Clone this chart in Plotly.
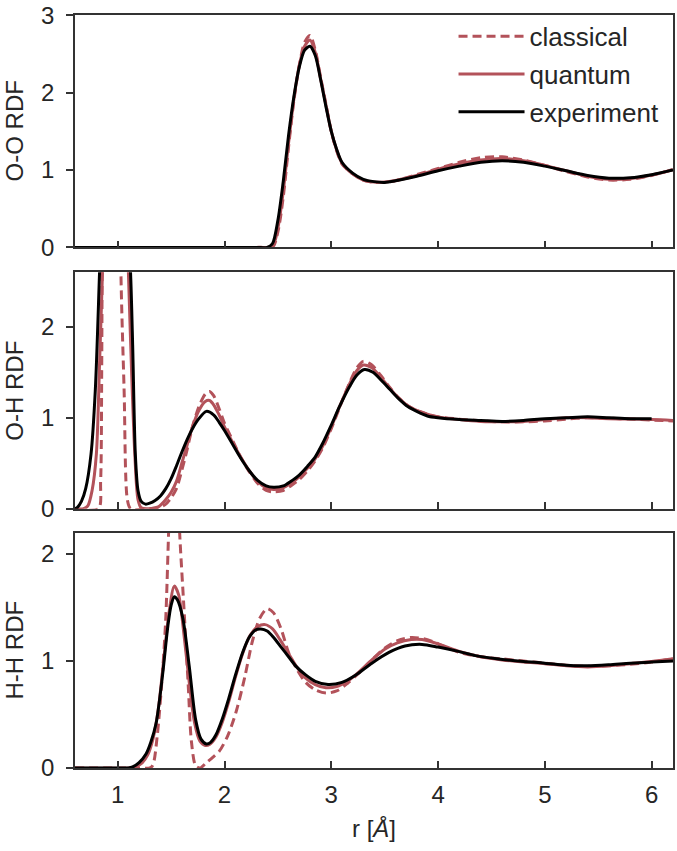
import plotly.graph_objects as go

# ---------------- O-O RDF ----------------
oo_exp_r = [0.6, 1.0, 1.5, 2.0, 2.3, 2.4, 2.45, 2.5, 2.55, 2.6, 2.65, 2.7, 2.75, 2.8, 2.85, 2.9, 2.95,
            3.0, 3.05, 3.1, 3.2, 3.3, 3.4, 3.5, 3.6, 3.8, 4.0, 4.2, 4.4, 4.6, 4.8, 5.0, 5.2, 5.4, 5.6,
            5.8, 6.0, 6.2]
oo_exp_g = [0, 0, 0, 0, 0, 0.0, 0.05, 0.35, 0.85, 1.45, 1.95, 2.33, 2.55, 2.60, 2.48, 2.17, 1.82,
            1.5, 1.27, 1.1, 0.96, 0.88, 0.85, 0.84, 0.86, 0.92, 0.99, 1.05, 1.1, 1.12, 1.1, 1.05, 0.99,
            0.93, 0.895, 0.9, 0.94, 1.0]

oo_cla_r = [0.6, 1.0, 1.5, 2.0, 2.3, 2.45, 2.5, 2.55, 2.6, 2.65, 2.7, 2.75, 2.8, 2.85, 2.9, 2.95, 3.0,
            3.05, 3.1, 3.2, 3.3, 3.4, 3.5, 3.6, 3.8, 4.0, 4.2, 4.4, 4.6, 4.8, 5.0, 5.2, 5.4, 5.6, 5.8,
            6.0, 6.2]
oo_cla_g = [0, 0, 0, 0, 0, 0.0, 0.2, 0.65, 1.3, 1.9, 2.35, 2.65, 2.74, 2.55, 2.2, 1.85, 1.5,
            1.25, 1.08, 0.95, 0.87, 0.84, 0.84, 0.86, 0.94, 1.02, 1.1, 1.16, 1.17, 1.13, 1.06, 0.98,
            0.91, 0.87, 0.88, 0.93, 1.01]

oo_qua_r = [0.6, 1.0, 1.5, 2.0, 2.3, 2.45, 2.5, 2.55, 2.6, 2.65, 2.7, 2.75, 2.8, 2.85, 2.9, 2.95, 3.0,
            3.05, 3.1, 3.2, 3.3, 3.4, 3.5, 3.6, 3.8, 4.0, 4.2, 4.4, 4.6, 4.8, 5.0, 5.2, 5.4, 5.6, 5.8,
            6.0, 6.2]
oo_qua_g = [0, 0, 0, 0, 0, 0.02, 0.25, 0.72, 1.35, 1.92, 2.35, 2.6, 2.68, 2.52, 2.18, 1.84, 1.5,
            1.26, 1.09, 0.95, 0.87, 0.845, 0.845, 0.865, 0.93, 1.01, 1.08, 1.13, 1.15, 1.12, 1.06, 0.99,
            0.92, 0.88, 0.89, 0.935, 1.005]

# ---------------- O-H RDF ----------------
oh_exp_r = [0.6, 0.62, 0.66, 0.70, 0.75, 0.79, 0.83, 0.87, 0.92, 0.97, 1.02, 1.07, 1.10, 1.12, 1.14,
            1.165, 1.19, 1.22, 1.26, 1.30, 1.35, 1.40, 1.45, 1.50, 1.55, 1.60, 1.65, 1.70, 1.76, 1.83,
            1.90, 1.95, 2.0, 2.08, 2.15, 2.23, 2.31, 2.39, 2.46, 2.55, 2.62, 2.70, 2.78, 2.85, 2.92,
            3.0, 3.08, 3.17, 3.24, 3.31, 3.39, 3.47, 3.55, 3.63, 3.72, 3.8, 3.9, 4.0, 4.2, 4.4, 4.6,
            4.8, 5.0, 5.2, 5.4, 5.6, 5.8, 6.0]
oh_exp_g = [0, 0.01, 0.08, 0.22, 0.6, 1.3, 2.6, 4.0, 5.0, 5.2, 4.6, 3.6, 3.0, 2.6, 1.8,
            0.6, 0.2, 0.08, 0.05, 0.06, 0.09, 0.14, 0.22, 0.33, 0.47, 0.62, 0.76, 0.88, 0.99, 1.07,
            1.03, 0.95, 0.86, 0.70, 0.56, 0.42, 0.31, 0.25, 0.235, 0.25, 0.3, 0.37, 0.47, 0.57, 0.72,
            0.92, 1.13, 1.34, 1.47, 1.53, 1.5, 1.41, 1.31, 1.21, 1.12, 1.07, 1.02, 1.0, 0.98, 0.97, 0.96,
            0.97, 0.99, 1.0, 1.01, 1.0, 0.99, 0.99]

oh_cla_r = [0.6, 0.82, 0.84, 0.85, 0.855, 0.87, 0.9, 0.95, 0.99, 1.01, 1.03, 1.06, 1.09, 1.12, 1.3,
            1.4, 1.45, 1.5, 1.55, 1.6, 1.65, 1.7, 1.76, 1.82, 1.86, 1.9, 1.95, 2.0, 2.08, 2.15, 2.23,
            2.31, 2.39, 2.46, 2.55, 2.62, 2.7, 2.78, 2.85, 2.92, 3.0, 3.08, 3.17, 3.24, 3.3, 3.38,
            3.46, 3.55, 3.63, 3.72, 3.8, 3.9, 4.0, 4.2, 4.4, 4.6, 4.8, 5.0, 5.2, 5.4, 5.6, 5.8, 6.0, 6.2]
oh_cla_g = [0, 0, 0.3, 1.5, 3.0, 7.0, 11.5, 13.0, 9.0, 5.5, 2.6, 1.3, 0.1, 0, 0,
            0.02, 0.05, 0.12, 0.22, 0.42, 0.65, 0.9, 1.12, 1.26, 1.29, 1.24, 1.1, 0.94, 0.74, 0.57, 0.41,
            0.28, 0.2, 0.185, 0.2, 0.25, 0.32, 0.42, 0.53, 0.67, 0.88, 1.12, 1.38, 1.55, 1.62, 1.58,
            1.47, 1.33, 1.22, 1.13, 1.08, 1.04, 1.01, 0.985, 0.965, 0.955, 0.955, 0.965, 0.985, 1.0,
            0.995, 0.985, 0.975, 0.965]

oh_qua_r = [0.6, 0.68, 0.72, 0.76, 0.80, 0.83, 0.86, 0.90, 0.96, 1.00, 1.04, 1.08, 1.10, 1.13, 1.16,
            1.19, 1.22, 1.3, 1.38, 1.45, 1.5, 1.55, 1.6, 1.65, 1.7, 1.76, 1.82, 1.86, 1.9, 1.95, 2.0,
            2.08, 2.15, 2.23, 2.31, 2.39, 2.46, 2.55, 2.62, 2.7, 2.78, 2.85, 2.92, 3.0, 3.08, 3.17,
            3.24, 3.3, 3.38, 3.46, 3.55, 3.63, 3.72, 3.8, 3.9, 4.0, 4.2, 4.4, 4.6, 4.8, 5.0, 5.2, 5.4,
            5.6, 5.8, 6.0, 6.2]
oh_qua_g = [0, 0, 0.03, 0.2, 0.6, 1.6, 2.7, 4.5, 6.0, 5.8, 4.6, 3.3, 2.6, 1.5, 0.6,
            0.1, 0.01, 0.0, 0.02, 0.1, 0.18, 0.3, 0.5, 0.7, 0.9, 1.08, 1.18, 1.19, 1.14, 1.03, 0.9,
            0.72, 0.57, 0.42, 0.3, 0.23, 0.21, 0.23, 0.28, 0.35, 0.45, 0.55, 0.69, 0.9, 1.13, 1.37,
            1.52, 1.58, 1.55, 1.45, 1.32, 1.22, 1.13, 1.08, 1.04, 1.01, 0.98, 0.96, 0.955, 0.96, 0.98,
            1.0, 1.0, 0.99, 0.985, 0.98, 0.97]

# ---------------- H-H RDF ----------------
hh_exp_r = [0.6, 1.0, 1.1, 1.14, 1.2, 1.265, 1.31, 1.36, 1.42, 1.47, 1.50, 1.53, 1.56, 1.61, 1.67,
            1.73, 1.78, 1.83, 1.87, 1.92, 1.98, 2.04, 2.1, 2.17, 2.23, 2.29, 2.34, 2.4, 2.46, 2.53,
            2.6, 2.67, 2.76, 2.85, 2.97, 3.1, 3.23, 3.38, 3.54, 3.69, 3.85, 4.0, 4.19, 4.35, 4.55, 4.8,
            5.0, 5.2, 5.4, 5.6, 5.8, 6.0, 6.2]
hh_exp_g = [0, 0, 0, 0.01, 0.05, 0.13, 0.24, 0.42, 0.87, 1.33, 1.52, 1.60, 1.57, 1.40, 0.95,
            0.45, 0.27, 0.225, 0.24, 0.31, 0.46, 0.65, 0.86, 1.08, 1.22, 1.29, 1.30, 1.28, 1.22, 1.13,
            1.04, 0.95, 0.87, 0.81, 0.78, 0.80, 0.87, 0.98, 1.08, 1.14, 1.155, 1.13, 1.09, 1.05, 1.02,
            0.995, 0.98, 0.96, 0.955, 0.965, 0.98, 0.99, 1.0]

hh_cla_r = [0.6, 1.2, 1.3, 1.33, 1.37, 1.42, 1.45, 1.48, 1.52, 1.55, 1.58, 1.62, 1.66, 1.69, 1.73,
            1.77, 1.83, 1.89, 1.95, 2.03, 2.11, 2.19, 2.26, 2.33, 2.4, 2.46, 2.53, 2.6, 2.68, 2.76,
            2.85, 2.95, 3.05, 3.15, 3.25, 3.38, 3.5, 3.62, 3.75, 3.9, 4.05, 4.2, 4.4, 4.6, 4.8, 5.0,
            5.2, 5.4, 5.6, 5.8, 6.0, 6.2]
hh_cla_g = [0, 0, 0.0, 0.03, 0.3, 0.9, 1.4, 2.3, 3.3, 3.0, 2.2, 1.5, 0.78, 0.25, 0.02,
            0.0, 0.05, 0.1, 0.155, 0.3, 0.53, 0.85, 1.18, 1.40, 1.49, 1.45, 1.30, 1.08, 0.92, 0.80,
            0.73, 0.70, 0.72, 0.79, 0.88, 1.01, 1.12, 1.19, 1.22, 1.2, 1.14, 1.08, 1.04, 1.02, 1.0, 0.98,
            0.96, 0.95, 0.955, 0.97, 0.99, 1.02]

hh_qua_r = [0.6, 1.1, 1.16, 1.22, 1.28, 1.33, 1.38, 1.43, 1.48, 1.53, 1.57, 1.62, 1.67, 1.72, 1.77,
            1.82, 1.86, 1.92, 1.98, 2.04, 2.1, 2.17, 2.24, 2.31, 2.38, 2.45, 2.52, 2.6, 2.68, 2.76,
            2.85, 2.95, 3.05, 3.15, 3.25, 3.38, 3.5, 3.62, 3.75, 3.85, 4.0, 4.2, 4.4, 4.6, 4.8, 5.0,
            5.2, 5.4, 5.6, 5.8, 6.0, 6.2]
hh_qua_g = [0, 0, 0.01, 0.04, 0.12, 0.27, 0.55, 1.0, 1.45, 1.70, 1.62, 1.25, 0.8, 0.42, 0.25,
            0.21, 0.22, 0.29, 0.43, 0.62, 0.84, 1.07, 1.24, 1.32, 1.34, 1.30, 1.2, 1.07, 0.94, 0.84,
            0.78, 0.75, 0.76, 0.81, 0.89, 1.01, 1.11, 1.17, 1.2, 1.2, 1.16, 1.09, 1.04, 1.01, 0.99,
            0.975, 0.955, 0.945, 0.955, 0.975, 0.995, 1.02]

series_names = ["classical", "quantum", "experiment"]
panel_titles = ["O-O RDF", "O-H RDF", "H-H RDF"]
x_ticks = [1, 2, 3, 4, 5, 6]
y_ticks = [[0, 1, 2, 3], [0, 1, 2], [0, 1, 2]]
y_ranges = [[0, 3.004], [0, 2.6], [0, 2.2]]

panels = [
    [(oo_cla_r, oo_cla_g), (oo_qua_r, oo_qua_g), (oo_exp_r, oo_exp_g)],
    [(oh_cla_r, oh_cla_g), (oh_qua_r, oh_qua_g), (oh_exp_r, oh_exp_g)],
    [(hh_cla_r, hh_cla_g), (hh_qua_r, hh_qua_g), (hh_exp_r, hh_exp_g)],
]

RED = "#b3525a"
TXT = "#262626"
FONT = "Liberation Sans, Arial, sans-serif"
FS = 24
styles = [dict(color=RED, width=3, dash="9px,5px"),
          dict(color=RED, width=3),
          dict(color="black", width=3)]

fig = go.Figure()
for p, traces in enumerate(panels):
    sfx = "" if p == 0 else str(p + 1)
    for k, (rr, gg) in enumerate(traces):
        fig.add_trace(go.Scatter(
            x=rr, y=gg, mode="lines", name=series_names[k],
            line=dict(shape="spline", smoothing=0.8, **styles[k]),
            xaxis="x" + sfx, yaxis="y" + sfx,
            showlegend=(p == 0), legendgroup=series_names[k],
        ))

domains = [[0.6914, 1.0], [0.3444, 0.6583], [0.0, 0.3126]]
annotations = []
layout = dict(
    width=677, height=851,
    margin=dict(l=75, r=2, t=13, b=83),
    paper_bgcolor="white", plot_bgcolor="white",
    font=dict(family=FONT, size=FS, color=TXT),
    showlegend=True,
    legend=dict(x=0.633, y=1.003, xanchor="left", yanchor="top",
                bgcolor="rgba(0,0,0,0)", font=dict(size=26, color=TXT),
                traceorder="grouped", tracegroupgap=1, itemwidth=66),
)
for p in range(3):
    sfx = "" if p == 0 else str(p + 1)
    layout["xaxis" + sfx] = dict(
        domain=[0, 1], range=[0.6, 6.2], anchor="y" + sfx,
        tickvals=x_ticks, ticks="inside", ticklen=7, tickwidth=1.5, tickcolor="#333333",
        showline=True, mirror=True, linecolor="#333333", linewidth=1.6,
        showgrid=False, zeroline=False,
        showticklabels=(p == 2), tickfont=dict(size=FS, color=TXT),
        ticklabelstandoff=4,
        title=dict(text="r [<i>Å</i>]", font=dict(size=FS, color=TXT), standoff=14) if p == 2 else None,
    )
    if p != 2:
        layout["xaxis" + sfx]["matches"] = "x3"
    layout["yaxis" + sfx] = dict(
        domain=domains[p], range=y_ranges[p], anchor="x" + sfx,
        tickvals=y_ticks[p], ticks="outside", ticklen=7, tickwidth=1.5, tickcolor="#333333",
        showline=True, mirror=True, linecolor="#333333", linewidth=1.6,
        showgrid=False, zeroline=False, tickfont=dict(size=FS, color=TXT),
        ticklabelstandoff=7, ticklabeloverflow="allow",
    )
    annotations.append(dict(
        text=panel_titles[p], textangle=-90, showarrow=False,
        xref="paper", yref="paper", x=-(75 - 14) / 600, y=sum(domains[p]) / 2,
        xanchor="center", yanchor="middle", font=dict(size=FS, color=TXT),
    ))
layout["annotations"] = annotations
fig.update_layout(**layout)
fig.write_html("out.html", config={"displayModeBar": False},
               post_script="document.body.style.margin='0';document.body.style.overflow='hidden';")
